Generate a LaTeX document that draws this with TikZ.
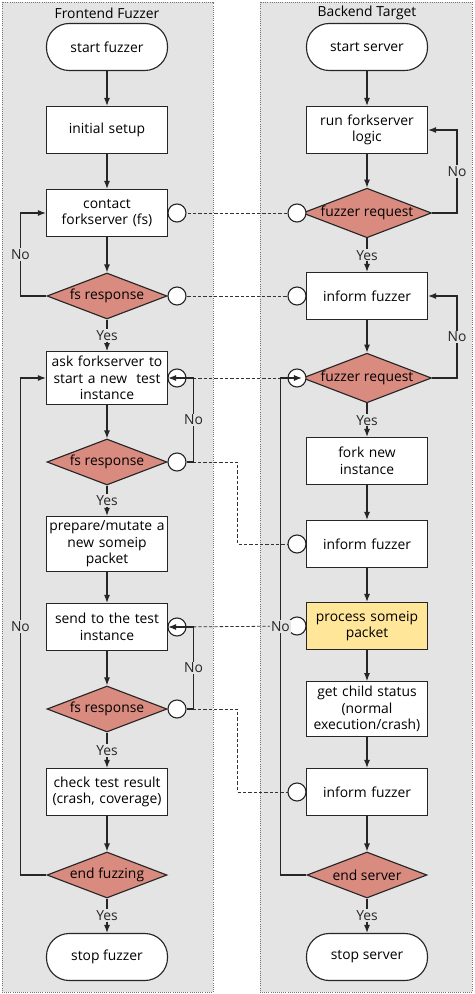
\documentclass[tikz,border=0pt]{standalone}
\usepackage{fontspec}
\setmainfont{Open Sans}
\usetikzlibrary{shapes.geometric}
\usetikzlibrary{arrows.meta}
\definecolor{lanegray}{HTML}{E4E4E4}
\definecolor{decisionred}{HTML}{DA8B80}
\definecolor{procyellow}{HTML}{FFE699}

\begin{document}
\begin{tikzpicture}[x=0.75pt, y=-0.75pt, line width=0.85pt, font=\fontsize{10.4}{12.4}\selectfont,
  lane/.style={fill=lanegray, draw=black!55, line width=0.6pt, densely dotted},
  terminal/.style={draw=black!85, fill=white, rounded corners=17pt, minimum width=90.75pt, minimum height=35.25pt},
  process/.style={draw=black!85, fill=white, minimum width=90.75pt, minimum height=35.25pt, text width=90pt, inner xsep=0.35pt, align=center},
  decision/.style={diamond, aspect=2.6, draw=black!85, fill=decisionred, minimum width=90pt, minimum height=34.5pt, inner sep=0pt},
  port/.style={circle, draw=black!85, fill=white, minimum size=13.5pt, inner sep=0pt},
  flow/.style={draw=black!85, -{Latex[length=6pt, width=4.5pt]}},
  link/.style={draw=black!80, dash pattern=on 2.5pt off 1.5pt, line width=0.6pt},
  tag/.style={fill=lanegray, inner sep=1pt, text=black!85}]

\useasboundingbox (0,0) rectangle (474,994);
\draw[lane] (2,2) rectangle (213,992);
\draw[lane] (260,2) rectangle (472,992);
\node (ftitle) at (107,13) {Frontend Fuzzer};
\node (stitle) at (367,13) {Backend Target};

\node[terminal] (fstart) at (107,47) {start fuzzer};
\node[process] (fsetup) at (107,130) {initial setup};
\node[process] (fcontact) at (107,213) {contact\\forkserver (fs)};
\node[decision] (fresp1) at (107,296) {fs response};
\node[process] (fask) at (107,378) {ask forkserver to\\start a new\ \ test\\instance};
\node[decision] (fresp2) at (107,462) {fs response};
\node[process] (fprep) at (107,544) {prepare/mutate a\\new someip\\packet};
\node[process] (fsend) at (107,627) {send to the test\\instance};
\node[decision] (fresp3) at (107,709) {fs response};
\node[process] (fcheck) at (107,792) {check test result\\(crash, coverage)};
\node[decision] (fend) at (107,875) {end fuzzing};
\node[terminal] (fstop) at (107,957) {stop fuzzer};

\node[terminal] (sstart) at (367,47) {start server};
\node[process] (slogic) at (367,130) {run forkserver\\logic};
\node[decision] (sreq1) at (367,213) {fuzzer request};
\node[process] (sinform1) at (367,296) {inform fuzzer};
\node[decision] (sreq2) at (367,378) {fuzzer request};
\node[process] (sfork) at (367,461) {fork new\\instance};
\node[process] (sinform2) at (367,544) {inform fuzzer};
\node[process, fill=procyellow] (sproc) at (367,626) {process someip\\packet};
\node[process] (schild) at (367,709) {get child status\\(normal\\execution/crash)};
\node[process] (sinform3) at (367,792) {inform fuzzer};
\node[decision] (sendsrv) at (367,875) {end server};
\node[terminal] (sstop) at (367,957) {stop server};

\draw[link] (fcontact.east) ++(9,0) -- (297,213);
\draw[link] (fresp1.east) ++(9,0) -- (297,296);
\draw[link] (fask.east) ++(9,0) -- (297,378);
\draw[link] (fresp2.east) ++(9,0) -- ++(61,0) |- (297,544);
\draw[link] (fsend.east) ++(9,0) -- (297,626);
\draw[link] (fresp3.east) ++(9,0) -- ++(61,0) |- (297,792);

\foreach \n/\y in {pfcontact/213, pfresp1/296, pfask/378, pfresp2/462, pfsend/627, pfresp3/709}
  \node[port] (\n) at (177,\y) {};
\foreach \n/\y in {psreq1/213, psinform1/296, psreq2/378, psinform2/544, psproc/626, psinform3/792}
  \node[port] (\n) at (297,\y) {};

\foreach \a/\b in {fstart/fsetup, fsetup/fcontact, fcontact/fresp1, fask/fresp2, fprep/fsend, fsend/fresp3, fcheck/fend,
  sstart/slogic, slogic/sreq1, sinform1/sreq2, sfork/sinform2, sinform2/sproc, sproc/schild, schild/sinform3, sinform3/sendsrv}
  \draw[flow] (\a) -- (\b);
\foreach \a/\b in {fresp1/fask, fresp2/fprep, fresp3/fcheck, fend/fstop, sreq1/sinform1, sreq2/sfork, sendsrv/sstop}
  \draw[flow] (\a) -- node[tag] {Yes} (\b);

\draw[flow] (fresp1.west) -- ++(-26,0) |- node[tag, pos=0.25] {No} (fcontact.west);
\draw[flow] (fend.west) -- ++(-26,0) |- node[tag, pos=0.25] {No} (fask.west);
\draw[flow] (pfresp2.east) -- ++(7,0) |- node[tag, pos=0.25] {No} (fask.east);
\draw[flow] (pfresp3.east) -- ++(7,0) |- node[tag, pos=0.25] {No} (fsend.east);
\draw[flow] (sreq1.east) -- ++(25,0) |- node[tag, pos=0.25] {No} (slogic.east);
\draw[flow] (sreq2.east) -- ++(25,0) |- node[tag, pos=0.25] {No} (sinform1.east);
\draw[flow] (sendsrv.west) -- ++(-26,0) |- node[tag, pos=0.25] {No} (sreq2.west);
\end{tikzpicture}
\end{document}
